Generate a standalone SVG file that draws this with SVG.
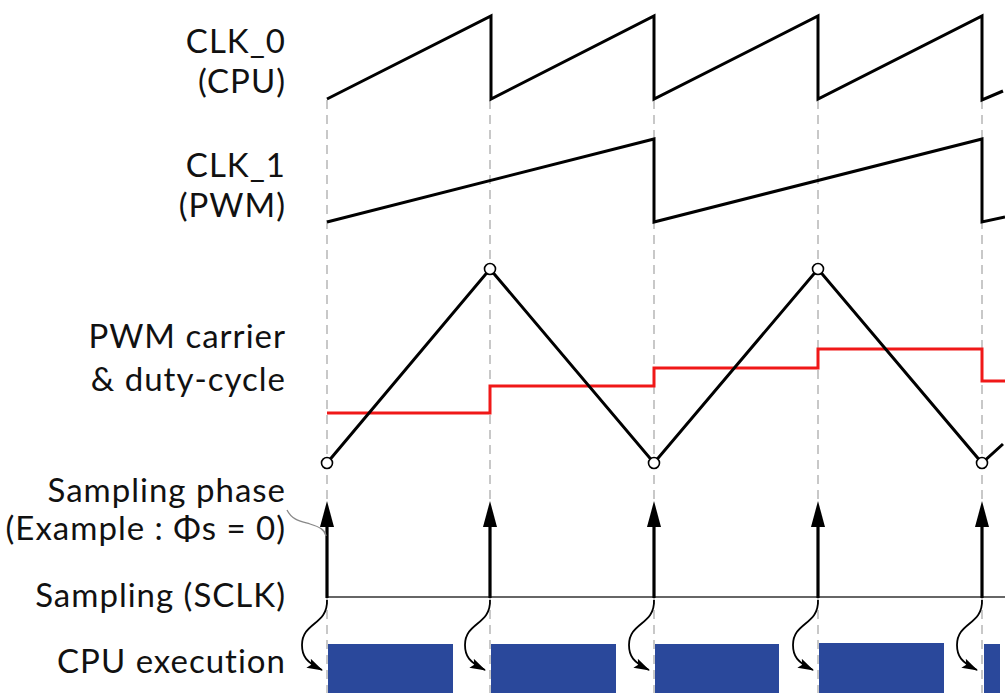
<svg xmlns="http://www.w3.org/2000/svg" width="1005" height="693" viewBox="0 0 1005 693">
<style>
.lbl{font-family:Lato,"Open Sans",sans-serif;font-size:33px;fill:#111;text-anchor:end;letter-spacing:1px}
.dash{stroke:#c8c8c8;stroke-width:2;stroke-dasharray:9 6;fill:none}
.wave{stroke:#000;stroke-width:3;fill:none;stroke-linejoin:miter}
.duty{stroke:#f01818;stroke-width:3;fill:none}
.pt{fill:#fff;stroke:#000;stroke-width:1.6}
.shaft{stroke:#000;stroke-width:3.2}
.curl{stroke:#000;stroke-width:1.8;fill:none}
.cpu{fill:#2a489b}
</style>
<defs>
<marker id="ah" markerWidth="16" markerHeight="10" refX="15" refY="5" orient="auto" markerUnits="userSpaceOnUse">
<path d="M0,0 L16,5 L0,10 L3,5 Z" fill="#000"/>
</marker>
</defs>
<rect width="1005" height="693" fill="#fff"/>
<g id="guides">
<line class="dash" x1="327" y1="100" x2="327" y2="693"/>
<line class="dash" x1="490" y1="100" x2="490" y2="693"/>
<line class="dash" x1="654" y1="100" x2="654" y2="693"/>
<line class="dash" x1="818" y1="100" x2="818" y2="693"/>
<line class="dash" x1="982" y1="100" x2="982" y2="693"/>
</g>
<g id="labels">
<text class="lbl" x="286" y="53">CLK_0</text>
<text class="lbl" x="286" y="93">(CPU)</text>
<text class="lbl" x="286" y="177">CLK_1</text>
<text class="lbl" x="286" y="217">(PWM)</text>
<text class="lbl" x="286" y="348">PWM carrier</text>
<text class="lbl" x="286" y="391">&amp; duty-cycle</text>
<text class="lbl" x="286" y="502">Sampling phase</text>
<text class="lbl" x="286" y="540">(Example : Φs = 0)</text>
<text class="lbl" x="286" y="607">Sampling (SCLK)</text>
<text class="lbl" x="286" y="673">CPU execution</text>
</g>
<g id="clk0">
<polyline class="wave" points="327,99 491,16 491,99 654,16 654,99 818,16 818,99 982,16 982,100 1003,91"/>
</g>
<g id="clk1">
<polyline class="wave" points="327,222 654,139 654,222 982,139 982,222 1005,217"/>
</g>
<g id="duty">
<polyline class="duty" points="327,413 490,413 490,386 654,386 654,368 818,368 818,349 982,349 982,381 1005,381"/>
</g>
<g id="carrier">
<polyline class="wave" points="327,463 490,269 654,463 818,269 982,463 1003,444"/>
<circle class="pt" cx="327" cy="463" r="5.5"/>
<circle class="pt" cx="490" cy="269" r="5.5"/>
<circle class="pt" cx="654" cy="463" r="5.5"/>
<circle class="pt" cx="818" cy="269" r="5.5"/>
<circle class="pt" cx="982" cy="463" r="5.5"/>
</g>
<g id="sampling">
<line x1="327" y1="597" x2="1005" y2="597" stroke="#333" stroke-width="1.6"/>
<g>
<line class="shaft" x1="327" y1="598" x2="327" y2="524"/><path d="M327,501 L334,527 L320,527 Z"/>
<line class="shaft" x1="490" y1="598" x2="490" y2="524"/><path d="M490,501 L497,527 L483,527 Z"/>
<line class="shaft" x1="654" y1="598" x2="654" y2="524"/><path d="M654,501 L661,527 L647,527 Z"/>
<line class="shaft" x1="818" y1="598" x2="818" y2="524"/><path d="M818,501 L825,527 L811,527 Z"/>
<line class="shaft" x1="982" y1="598" x2="982" y2="524"/><path d="M982,501 L989,527 L975,527 Z"/>
</g>
<path d="M287,510 C292,520 300,521 310,524 C320,527 325,530 326,536" stroke="#888" stroke-width="1.3" fill="none"/>
</g>
<g id="cpu">
<rect class="cpu" x="328" y="644" width="125" height="49"/>
<rect class="cpu" x="491" y="644" width="125" height="49"/>
<rect class="cpu" x="655" y="644" width="124" height="49"/>
<rect class="cpu" x="819" y="643" width="125" height="50"/>
<rect class="cpu" x="984" y="644" width="16" height="49"/>
</g>
<g id="connectors">
<path class="curl" marker-end="url(#ah)" d="M327,600 C328,625 302,622 302,645 C302,656 306,662 322,670"/>
<path class="curl" marker-end="url(#ah)" d="M490,600 C491,625 465,622 465,645 C465,656 469,662 485,670"/>
<path class="curl" marker-end="url(#ah)" d="M654,600 C655,625 629,622 629,645 C629,656 633,662 649,670"/>
<path class="curl" marker-end="url(#ah)" d="M818,600 C819,625 793,622 793,645 C793,656 797,662 813,670"/>
<path class="curl" marker-end="url(#ah)" d="M982,600 C983,625 957,622 957,645 C957,656 961,662 977,670"/>
</g>
</svg>
